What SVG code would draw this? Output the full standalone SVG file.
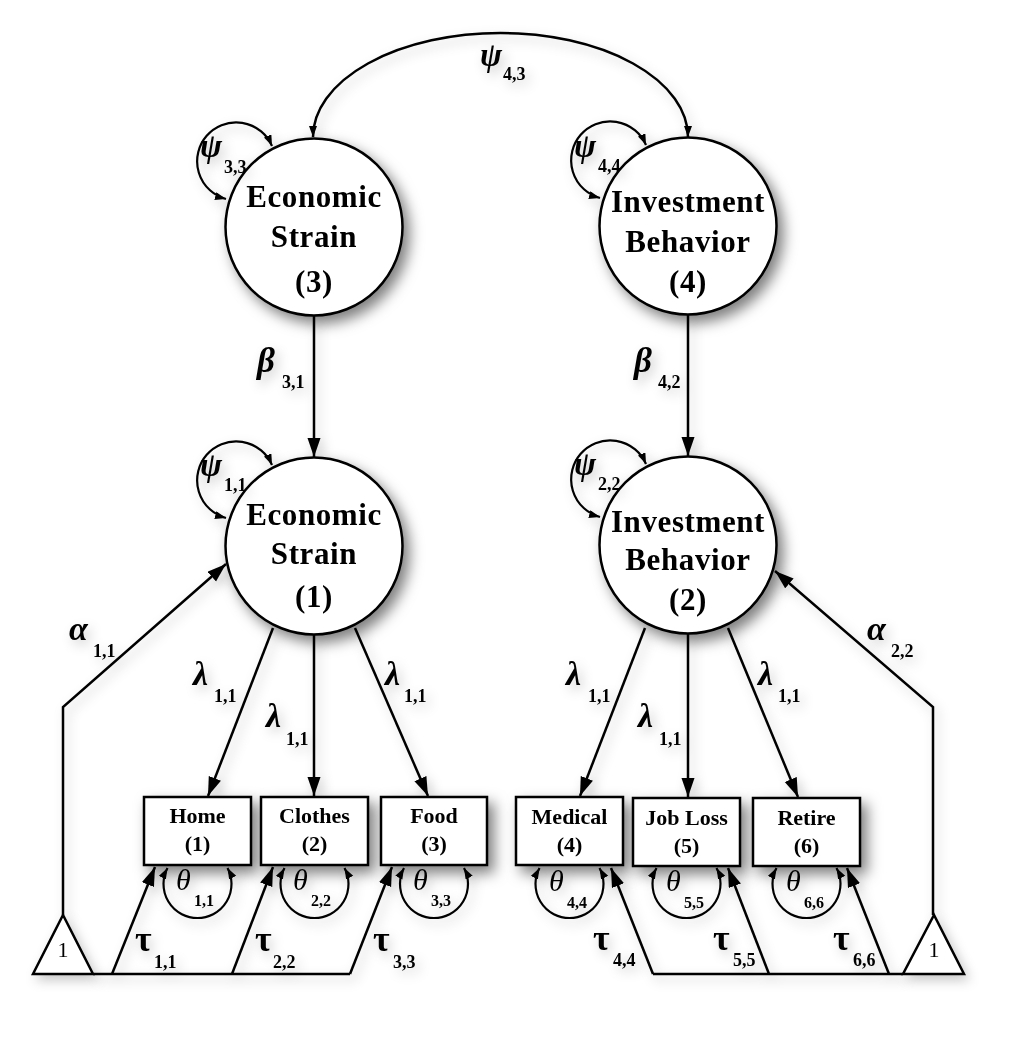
<svg xmlns="http://www.w3.org/2000/svg" width="1031" height="1045" viewBox="0 0 1031 1045">
<defs>
<filter id="sh" x="-30%" y="-30%" width="170%" height="170%">
<feDropShadow dx="6" dy="7" stdDeviation="7" flood-color="#000" flood-opacity="0.5"/>
</filter>
<filter id="shl" x="-30%" y="-30%" width="170%" height="170%">
<feDropShadow dx="4" dy="5" stdDeviation="6" flood-color="#000" flood-opacity="0.22"/>
</filter>
<marker id="ah" markerUnits="userSpaceOnUse" markerWidth="21" markerHeight="14" refX="19" refY="6.5" orient="auto-start-reverse">
<path d="M0,0 L19,6.5 L0,13 z" fill="#000"/>
</marker>
<marker id="ahs" markerUnits="userSpaceOnUse" markerWidth="12" markerHeight="9" refX="11" refY="4" orient="auto-start-reverse">
<path d="M0,0 L11,4 L0,8 z" fill="#000"/>
</marker>
</defs>
<style>
.nd{fill:#fff;stroke:#000;stroke-width:2.5}
.ln{fill:none;stroke:#000;stroke-width:2.5}
.lp{fill:none;stroke:#000;stroke-width:2.2}
.ct{font-family:"Liberation Serif","Times New Roman",serif;font-weight:bold;font-size:31px;letter-spacing:0.6px;text-anchor:middle;fill:#000}
.bt{font-family:"Liberation Serif","Times New Roman",serif;font-weight:bold;font-size:22px;text-anchor:middle;fill:#000}
.gb{font-family:"Liberation Serif","Times New Roman",serif;font-weight:bold;font-style:italic;font-size:35px;fill:#000}
.gl{font-family:"Liberation Serif","Times New Roman",serif;font-weight:bold;font-style:italic;font-size:34px;fill:#000}
.ps{font-family:"Liberation Serif","Times New Roman",serif;font-weight:bold;font-style:italic;font-size:33px;fill:#000}
.th{font-family:"Liberation Serif","Times New Roman",serif;font-style:italic;font-size:30px;fill:#000}
.ta{font-family:"Liberation Serif","Times New Roman",serif;font-weight:bold;font-size:36px;fill:#000}
.sb{font-family:"Liberation Serif","Times New Roman",serif;font-weight:bold;font-size:18px;fill:#000}
.sbs{font-family:"Liberation Serif","Times New Roman",serif;font-weight:bold;font-size:16px;fill:#000}
.one{font-family:"Liberation Serif","Times New Roman",serif;font-size:22px;text-anchor:middle;fill:#000}
</style>
<rect width="1031" height="1045" fill="#fff"/>

<g id="connectors" filter="url(#shl)">
<path class="ln" d="M313,137 A187.5,104 0 0 1 688,137" marker-start="url(#ahs)" marker-end="url(#ahs)"/>
<path class="lp" d="M272,146 A39,39 0 1 0 226,199" marker-start="url(#ahs)" marker-end="url(#ahs)"/>
<path class="lp" d="M646,145 A39,39 0 1 0 600,198" marker-start="url(#ahs)" marker-end="url(#ahs)"/>
<path class="lp" d="M272,465 A39,39 0 1 0 226,518" marker-start="url(#ahs)" marker-end="url(#ahs)"/>
<path class="lp" d="M646,464 A39,39 0 1 0 600,517" marker-start="url(#ahs)" marker-end="url(#ahs)"/>
<path class="ln" d="M314,316 L314,457" marker-end="url(#ah)"/>
<path class="ln" d="M688,314 L688,456" marker-end="url(#ah)"/>
<path class="ln" d="M63,915 L63,707 L226,564" marker-end="url(#ah)"/>
<path class="ln" d="M933,915 L933,707 L775,571" marker-end="url(#ah)"/>
<path class="ln" d="M273,628 L208,796" marker-end="url(#ah)"/>
<path class="ln" d="M314,635 L314,796" marker-end="url(#ah)"/>
<path class="ln" d="M355,628 L428,796" marker-end="url(#ah)"/>
<path class="ln" d="M645,628 L580,796" marker-end="url(#ah)"/>
<path class="ln" d="M688,634 L688,797" marker-end="url(#ah)"/>
<path class="ln" d="M728,628 L798,797" marker-end="url(#ah)"/>
<path class="lp" d="M167.5,868 A34,34 0 1 0 227.5,868" marker-start="url(#ahs)" marker-end="url(#ahs)"/>
<path class="lp" d="M284.5,868 A34,34 0 1 0 344.5,868" marker-start="url(#ahs)" marker-end="url(#ahs)"/>
<path class="lp" d="M404,868 A34,34 0 1 0 464,868" marker-start="url(#ahs)" marker-end="url(#ahs)"/>
<path class="lp" d="M539.5,868 A34,34 0 1 0 599.5,868" marker-start="url(#ahs)" marker-end="url(#ahs)"/>
<path class="lp" d="M656.5,868 A34,34 0 1 0 716.5,868" marker-start="url(#ahs)" marker-end="url(#ahs)"/>
<path class="lp" d="M776.5,868 A34,34 0 1 0 836.5,868" marker-start="url(#ahs)" marker-end="url(#ahs)"/>
<path class="ln" d="M93,974 L350,974"/>
<path class="ln" d="M653,974 L903,974"/>
<path class="ln" d="M112,974 L155,867" marker-end="url(#ah)"/>
<path class="ln" d="M232,974 L273,867" marker-end="url(#ah)"/>
<path class="ln" d="M350,974 L392,867" marker-end="url(#ah)"/>
<path class="ln" d="M653,974 L611,868" marker-end="url(#ah)"/>
<path class="ln" d="M769,974 L728,868" marker-end="url(#ah)"/>
<path class="ln" d="M889,974 L847,868" marker-end="url(#ah)"/>
</g>

<g id="node-economic-strain-3" filter="url(#sh)">
<circle class="nd" cx="314" cy="227" r="88.5"/>
<text class="ct" x="314" y="207">Economic</text>
<text class="ct" x="314" y="247">Strain</text>
<text class="ct" x="314" y="292">(3)</text>
</g>
<g id="node-investment-behavior-4" filter="url(#sh)">
<circle class="nd" cx="688" cy="226" r="88.5"/>
<text class="ct" x="688" y="212">Investment</text>
<text class="ct" x="688" y="252">Behavior</text>
<text class="ct" x="688" y="292">(4)</text>
</g>
<g id="node-economic-strain-1" filter="url(#sh)">
<circle class="nd" cx="314" cy="546" r="88.5"/>
<text class="ct" x="314" y="525">Economic</text>
<text class="ct" x="314" y="564">Strain</text>
<text class="ct" x="314" y="607">(1)</text>
</g>
<g id="node-investment-behavior-2" filter="url(#sh)">
<circle class="nd" cx="688" cy="545" r="88.5"/>
<text class="ct" x="688" y="532">Investment</text>
<text class="ct" x="688" y="570">Behavior</text>
<text class="ct" x="688" y="610">(2)</text>
</g>

<g id="node-home" filter="url(#sh)">
<rect class="nd" x="144" y="797" width="107" height="68"/>
<text class="bt" x="197.5" y="823">Home</text>
<text class="bt" x="197.5" y="851">(1)</text>
</g>
<g id="node-clothes" filter="url(#sh)">
<rect class="nd" x="261" y="797" width="107" height="68"/>
<text class="bt" x="314.5" y="823">Clothes</text>
<text class="bt" x="314.5" y="851">(2)</text>
</g>
<g id="node-food" filter="url(#sh)">
<rect class="nd" x="381" y="797" width="106" height="68"/>
<text class="bt" x="434" y="823">Food</text>
<text class="bt" x="434" y="851">(3)</text>
</g>
<g id="node-medical" filter="url(#sh)">
<rect class="nd" x="516" y="797" width="107" height="68"/>
<text class="bt" x="569.5" y="824">Medical</text>
<text class="bt" x="569.5" y="852">(4)</text>
</g>
<g id="node-job-loss" filter="url(#sh)">
<rect class="nd" x="633" y="798" width="107" height="68"/>
<text class="bt" x="686.5" y="825">Job Loss</text>
<text class="bt" x="686.5" y="853">(5)</text>
</g>
<g id="node-retire" filter="url(#sh)">
<rect class="nd" x="753" y="798" width="107" height="68"/>
<text class="bt" x="806.5" y="825">Retire</text>
<text class="bt" x="806.5" y="853">(6)</text>
</g>

<g id="node-const-left" filter="url(#shl)">
<path class="nd" d="M33,974 L93,974 L63,915 z"/>
<text class="one" x="63" y="957">1</text>
</g>
<g id="node-const-right" filter="url(#shl)">
<path class="nd" d="M903,974 L964,974 L934,915 z"/>
<text class="one" x="934" y="957">1</text>
</g>

<g id="labels" filter="url(#shl)">
<text class="ps" x="480" y="66">ψ</text><text class="sb" x="503" y="80">4,3</text>
<text class="ps" x="200" y="157">ψ</text><text class="sb" x="224" y="173">3,3</text>
<text class="ps" x="574" y="157">ψ</text><text class="sb" x="598" y="172">4,4</text>
<text class="ps" x="200" y="476">ψ</text><text class="sb" x="224" y="491">1,1</text>
<text class="ps" x="574" y="475">ψ</text><text class="sb" x="598" y="490">2,2</text>
<text class="gb" x="257" y="372">β</text><text class="sb" x="282" y="388">3,1</text>
<text class="gb" x="634" y="372">β</text><text class="sb" x="658" y="388">4,2</text>
<text class="gl" x="69" y="640">α</text><text class="sb" x="93" y="657">1,1</text>
<text class="gl" x="867" y="640">α</text><text class="sb" x="891" y="657">2,2</text>
<text class="gl" x="193" y="685">λ</text><text class="sb" x="214" y="702">1,1</text>
<text class="gl" x="266" y="727">λ</text><text class="sb" x="286" y="745">1,1</text>
<text class="gl" x="385" y="685">λ</text><text class="sb" x="404" y="702">1,1</text>
<text class="gl" x="566" y="685">λ</text><text class="sb" x="588" y="702">1,1</text>
<text class="gl" x="638" y="727">λ</text><text class="sb" x="659" y="745">1,1</text>
<text class="gl" x="758" y="685">λ</text><text class="sb" x="778" y="702">1,1</text>
<text class="th" x="176" y="890">θ</text><text class="sbs" x="194" y="906">1,1</text>
<text class="th" x="293" y="890">θ</text><text class="sbs" x="311" y="906">2,2</text>
<text class="th" x="413" y="890">θ</text><text class="sbs" x="431" y="906">3,3</text>
<text class="th" x="549" y="891">θ</text><text class="sbs" x="567" y="908">4,4</text>
<text class="th" x="666" y="891">θ</text><text class="sbs" x="684" y="908">5,5</text>
<text class="th" x="786" y="891">θ</text><text class="sbs" x="804" y="908">6,6</text>
<text class="ta" x="135" y="951">τ</text><text class="sb" x="154" y="968">1,1</text>
<text class="ta" x="255" y="951">τ</text><text class="sb" x="273" y="968">2,2</text>
<text class="ta" x="373" y="951">τ</text><text class="sb" x="393" y="968">3,3</text>
<text class="ta" x="593" y="950">τ</text><text class="sb" x="613" y="966">4,4</text>
<text class="ta" x="713" y="950">τ</text><text class="sb" x="733" y="966">5,5</text>
<text class="ta" x="833" y="950">τ</text><text class="sb" x="853" y="966">6,6</text>
</g>
</svg>
